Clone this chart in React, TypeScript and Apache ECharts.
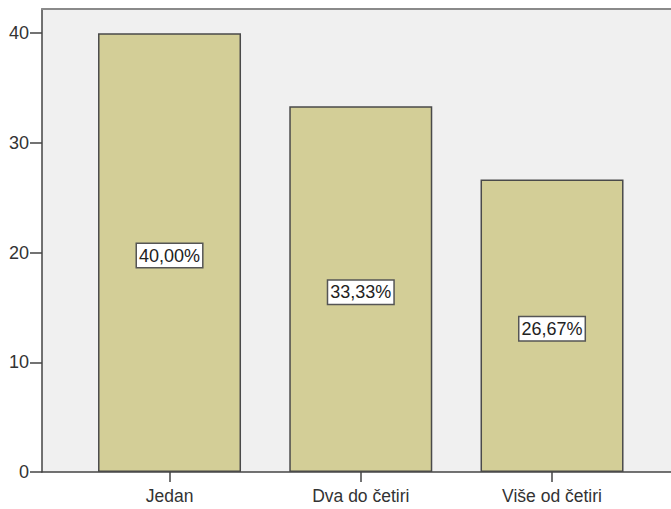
import React, { useEffect, useRef } from "react";
import * as echarts from "echarts";

const categories = ["Jedan", "Dva do četiri", "Više od četiri"];
const percentValues = [40.0, 33.33, 26.67];
const yTicks = [0, 10, 20, 30, 40];

export default function App() {
  const ref = useRef<HTMLDivElement>(null);
  useEffect(() => {
    if (!ref.current) return;
    const chart = echarts.init(ref.current, null, { renderer: "svg" });
    const font = "'Liberation Sans', Arial, sans-serif";
    const yMax = 42.2;
    chart.setOption({
      animation: false,
      backgroundColor: "#ffffff",
      grid: [
        { left: 42, right: 0, top: 9, bottom: 37, show: true, backgroundColor: "#f0f0f0", borderWidth: 0 },
        { left: 73.9, width: 573.75, top: 9, bottom: 37 },
      ],
      xAxis: [
        {
          type: "value", gridIndex: 0, min: 0, max: 1, position: "bottom",
          axisLine: { show: true, lineStyle: { color: "#444", width: 1.5 } },
          axisTick: { show: false }, axisLabel: { show: false }, splitLine: { show: false },
        },
        {
          type: "category", gridIndex: 1, data: categories, boundaryGap: true,
          axisLine: { show: false },
          axisTick: { show: true, alignWithLabel: true, length: 10, lineStyle: { color: "#444", width: 1.5 } },
          axisLabel: { show: true, margin: 15, fontSize: 17.5, fontFamily: font, color: "#333" },
          splitLine: { show: false },
        },
        {
          type: "value", gridIndex: 0, min: 0, max: 1, position: "top",
          axisLine: { show: true, lineStyle: { color: "#8a8a8a", width: 2 } },
          axisTick: { show: false }, axisLabel: { show: false }, splitLine: { show: false },
        },
      ],
      yAxis: [
        {
          type: "value", gridIndex: 0, min: 0, max: yMax, interval: 10,
          axisLine: { show: true, lineStyle: { color: "#444", width: 1.5 } },
          axisTick: { show: true, length: 12, lineStyle: { color: "#444", width: 1.5 }, customValues: yTicks },
          axisLabel: {
            show: true, margin: 13, fontSize: 18, fontFamily: font, color: "#333",
            customValues: yTicks,
          },
          splitLine: { show: false },
        },
        {
          type: "value", gridIndex: 1, min: 0, max: yMax, interval: 10,
          axisLine: { show: false }, axisTick: { show: false }, axisLabel: { show: false }, splitLine: { show: false },
        },
      ],
      series: [
        {
          type: "bar",
          xAxisIndex: 1,
          yAxisIndex: 1,
          data: percentValues,
          barWidth: 143,
          itemStyle: { color: "#d3ce97", borderColor: "#4a4a4a", borderWidth: 1.5 },
          label: {
            show: true,
            position: "inside",
            offset: [0, 3],
            formatter: (p: any) => p.value.toFixed(2).replace(".", ",") + "%",
            fontSize: 18,
            fontFamily: font,
            color: "#222",
            backgroundColor: "#ffffff",
            borderColor: "#555",
            borderWidth: 1.5,
            padding: [3, 2, 2, 2],
          },
        },
      ],
    });
    return () => chart.dispose();
  }, []);
  return <div ref={ref} style={{ width: 671, height: 509, position: "fixed", left: 0, top: 0 }} />;
}
